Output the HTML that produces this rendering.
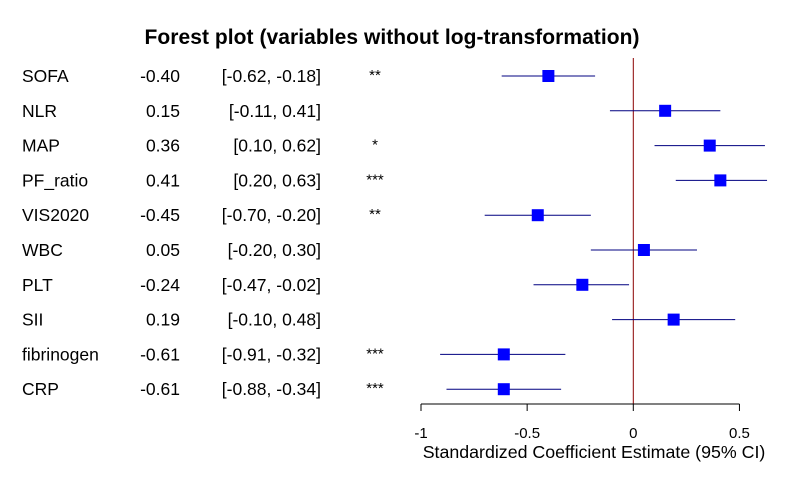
<!DOCTYPE html>
<html><head><meta charset="utf-8"><style>
body{margin:0;background:#fff;}
svg{display:block;font-family:"Liberation Sans",Arial,sans-serif;}
</style></head><body>
<svg id="c" width="787" height="486">
<text x="392" y="44" text-anchor="middle" font-size="21" font-weight="bold" textLength="495">Forest plot (variables without log-transformation)</text>
</svg>
<script>
const labels=["SOFA","NLR","MAP","PF_ratio","VIS2020","WBC","PLT","SII","fibrinogen","CRP"];
const estimates=[-0.40,0.15,0.36,0.41,-0.45,0.05,-0.24,0.19,-0.61,-0.61];
const lowers=[-0.62,-0.11,0.10,0.20,-0.70,-0.20,-0.47,-0.10,-0.91,-0.88];
const uppers=[-0.18,0.41,0.62,0.63,-0.20,0.30,-0.02,0.48,-0.32,-0.34];
const stars=["**","","*","***","**","","","","***","***"];
const ticks=[-1,-0.5,0,0.5];
const tickLabels=["-1","-0.5","0","0.5"];
const svg=document.getElementById('c');
const NS='http://www.w3.org/2000/svg';
const X=v=>633.3+v*212.3;
const Y=i=>76+i*34.8;
function mk(t,a,txt){const e=document.createElementNS(NS,t);for(const k in a)e.setAttribute(k,a[k]);if(txt!==undefined)e.textContent=txt;svg.appendChild(e);return e;}
const f=v=>v.toFixed(2);
let e=mk('line',{x1:X(0),x2:X(0),y1:58,y2:404,stroke:'#8b0000','stroke-width':1});


labels.forEach((l,i)=>{
 const y=Y(i);
 let t=mk('text',{x:22,y:y+6,'font-size':17.5},l);
 
 
 t=mk('text',{x:180,y:y+6,'font-size':17.5,'text-anchor':'end'},f(estimates[i]));
 
 
 t=mk('text',{x:321,y:y+6,'font-size':17.5,'text-anchor':'end'},'['+f(lowers[i])+', '+f(uppers[i])+']');
 
 
 t=mk('text',{x:375,y:y+4,'font-size':15,'text-anchor':'middle'},stars[i]);
 
 
 let ln=mk('line',{x1:X(lowers[i]),x2:X(uppers[i]),y1:y,y2:y,stroke:'#000080','stroke-width':1});
 
 
 let r=mk('rect',{x:X(estimates[i])-6,y:y-6,width:12,height:12,fill:'#0000ff'});
 
 
});
e=mk('line',{x1:X(-1),x2:X(0.5),y1:404,y2:404,stroke:'#000'});


ticks.forEach((v,i)=>{
 let l=mk('line',{x1:X(v),x2:X(v),y1:404,y2:411,stroke:'#000'});
 
 
 let t=mk('text',{x:X(v),y:438,'font-size':15,'text-anchor':'middle'},tickLabels[i]);
 
 
});
e=mk('text',{x:594,y:458,'font-size':17.8,'text-anchor':'middle'},'Standardized Coefficient Estimate (95% CI)');


</script>
</body></html>
